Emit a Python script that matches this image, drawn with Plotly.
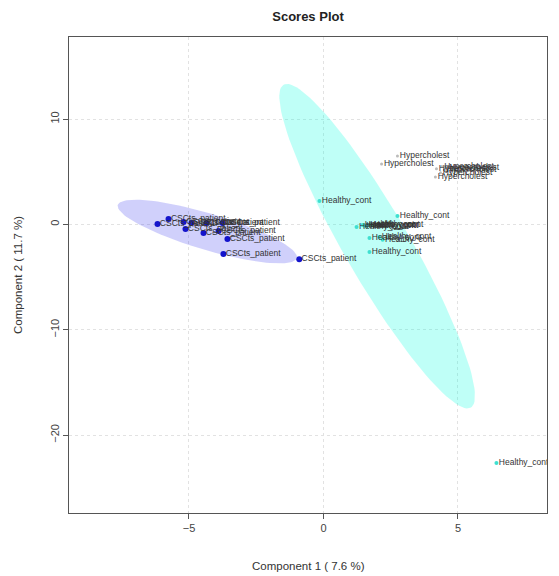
import numpy as np
import plotly.graph_objects as go

# ---- data ----
patient_x = [-6.17, -5.76, -5.20, -5.13, -4.91, -4.35, -4.46, -3.90, -3.75, -3.57, -3.72, -0.90]
patient_y = [0.05, 0.52, 0.24, -0.43, 0.14, 0.14, -0.81, -0.62, 0.14, -1.38, -2.80, -3.30]
patient_label = "CSCts_patient"

healthy_x = [-0.15, 2.75, 1.23, 1.45, 1.60, 1.78, 1.71, 1.71, 2.08, 1.50, 1.65, 2.20, 6.43]
healthy_y = [2.23, 0.81, -0.24, -0.05, -0.14, -0.05, -1.28, -2.61, -1.19, -0.10, -0.08, -1.45, -22.65]
healthy_label = "Healthy_cont"

hyper_x = [2.75, 2.16, 4.20, 4.16, 4.40, 4.50, 4.60, 4.35]
hyper_y = [6.50, 5.75, 5.30, 4.50, 5.50, 5.20, 5.40, 4.90]
hyper_label = "Hypercholest"

x_ticks = [-5, 0, 5]
y_ticks = [10, 0, -10, -20]

FONT = "Liberation Sans, Arial, sans-serif"


def conf_ellipse(x, y, level_t=2.4477, n=120):
    x = np.asarray(x, float)
    y = np.asarray(y, float)
    cov = np.cov(x, y)
    vals, vecs = np.linalg.eigh(cov)
    t = np.linspace(0, 2 * np.pi, n)
    circ = np.vstack([np.cos(t), np.sin(t)])
    pts = vecs @ (np.sqrt(vals)[:, None] * circ) * level_t
    return pts[0] + x.mean(), pts[1] + y.mean()


fig = go.Figure()

# ellipses (95% confidence regions computed from the group scores)
for gx, gy, col in [(patient_x, patient_y, "rgba(40,40,235,0.22)"),
                    (healthy_x, healthy_y, "rgba(0,255,225,0.25)")]:
    ex, ey = conf_ellipse(gx, gy)
    fig.add_trace(go.Scatter(x=ex, y=ey, mode="lines", fill="toself",
                             fillcolor=col, line=dict(width=0),
                             hoverinfo="skip", showlegend=False))

# points
fig.add_trace(go.Scatter(x=patient_x, y=patient_y, mode="markers",
                         marker=dict(color="#1414cc", size=6), showlegend=False))
fig.add_trace(go.Scatter(x=healthy_x, y=healthy_y, mode="markers",
                         marker=dict(color="#3fe0d0", size=4), showlegend=False))
fig.add_trace(go.Scatter(x=hyper_x, y=hyper_y, mode="markers",
                         marker=dict(color="#bbbbbb", size=3), showlegend=False))

# labels
for gx, gy, lab in [(patient_x, patient_y, patient_label),
                    (healthy_x, healthy_y, healthy_label),
                    (hyper_x, hyper_y, hyper_label)]:
    fig.add_trace(go.Scatter(x=gx, y=gy, mode="text", text=[" " + lab] * len(gx),
                             textposition="middle right",
                             textfont=dict(family=FONT, size=8.5, color="#333333"),
                             cliponaxis=True, hoverinfo="skip", showlegend=False))

axis_common = dict(showline=True, mirror=True, linecolor="#555555", linewidth=1,
                   ticks="outside", ticklen=5, tickcolor="#555555",
                   showgrid=True, gridcolor="#e2e2e2", griddash="dot", gridwidth=1,
                   zeroline=False, tickfont=dict(family=FONT, size=11, color="#444444"))

fig.update_xaxes(range=[-9.46, 8.31], tickvals=x_ticks, **axis_common)
fig.update_yaxes(range=[-27.4, 17.8], tickvals=y_ticks, tickangle=-90, **axis_common)

fig.update_layout(
    width=559, height=576,
    margin=dict(l=69, r=12, t=37, b=63),
    plot_bgcolor="white", paper_bgcolor="white",
    title=dict(text="<b>Scores Plot</b>", x=0.5, xref="paper", y=1 - 16 / 576,
               yref="container", xanchor="center", yanchor="middle",
               font=dict(family=FONT, size=13, color="#222222")),
    annotations=[
        dict(text="Component 1 ( 7.6 %)", xref="paper", yref="paper", x=0.5, y=0,
             yshift=-53, showarrow=False, yanchor="middle",
             font=dict(family=FONT, size=11.5, color="#333333")),
        dict(text="Component 2 ( 11.7 %)", xref="paper", yref="paper", x=0, y=0.5,
             xshift=-51, showarrow=False, textangle=-90, xanchor="center",
             font=dict(family=FONT, size=11.5, color="#333333")),
    ],
)

fig.write_html("out.html", config={"displayModeBar": False},
               post_script="document.body.style.margin='0';document.body.style.padding='0';")
